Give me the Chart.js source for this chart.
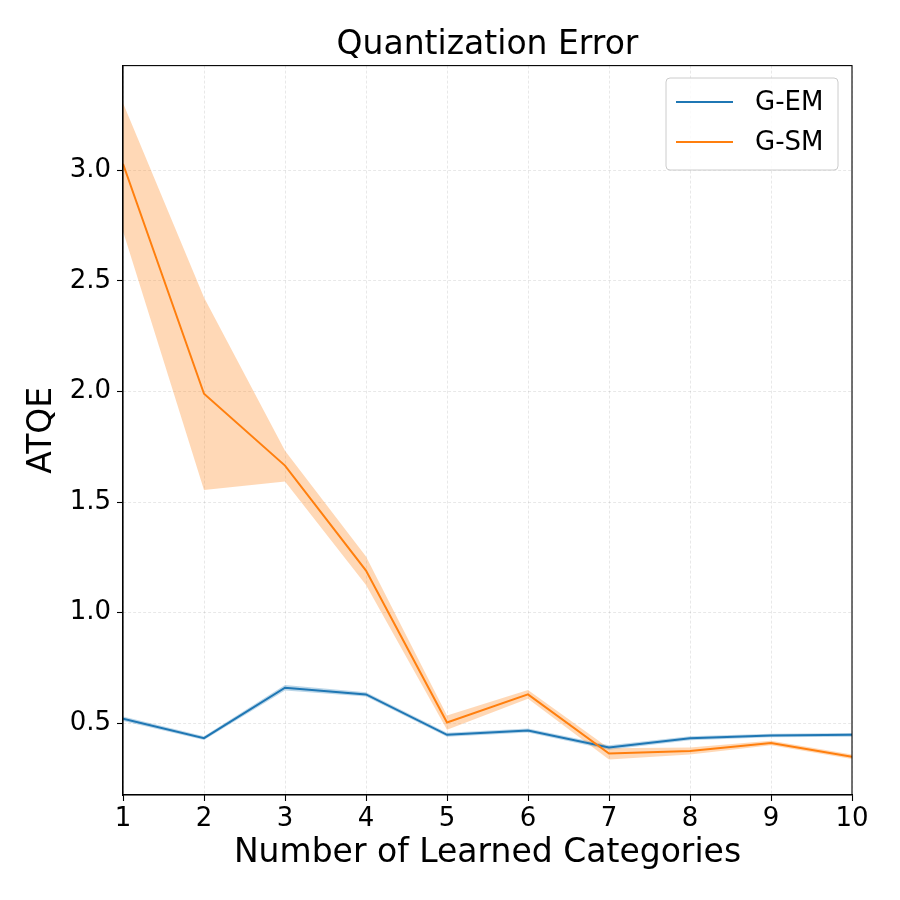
<!DOCTYPE html>
<html>
<head>
<meta charset="utf-8">
<script src="https://cdn.jsdelivr.net/npm/chart.js@4/dist/chart.umd.min.js"></script>
<style>
  html, body { margin: 0; padding: 0; background: #fff; }
  #wrap { width: 900px; height: 900px; }
</style>
</head>
<body>
<div id="wrap"><canvas id="c" width="900" height="900"></canvas></div>
<script>
const categories = [1, 2, 3, 4, 5, 6, 7, 8, 9, 10];
const yTickValues = [0.5, 1.0, 1.5, 2.0, 2.5, 3.0];
const xTickValues = [1, 2, 3, 4, 5, 6, 7, 8, 9, 10];

const gemMean  = [0.520, 0.432, 0.660, 0.630, 0.447, 0.467, 0.390, 0.432, 0.444, 0.447];
const gemLower = [0.510, 0.424, 0.648, 0.620, 0.438, 0.458, 0.380, 0.423, 0.436, 0.439];
const gemUpper = [0.530, 0.441, 0.672, 0.640, 0.456, 0.476, 0.400, 0.441, 0.452, 0.455];

const gsmMean  = [3.030, 1.990, 1.665, 1.190, 0.503, 0.630, 0.363, 0.374, 0.410, 0.348];
const gsmLower = [2.725, 1.555, 1.593, 1.125, 0.470, 0.610, 0.336, 0.358, 0.400, 0.338];
const gsmUpper = [3.305, 2.425, 1.732, 1.254, 0.535, 0.650, 0.386, 0.390, 0.420, 0.358];

const seriesNames = ['G-EM', 'G-SM'];
const blue = '#1f77b4', orange = '#ff7f0e';
const blueFill = 'rgba(31,119,180,0.3)', orangeFill = 'rgba(255,127,14,0.3)';

const pts = arr => categories.map((x, i) => ({x: x, y: arr[i]}));
const FONT = "'DejaVu Sans', sans-serif";

const frameAndLegend = {
  id: 'frameAndLegend',
  afterDraw(chart) {
    const ctx = chart.ctx, a = chart.chartArea;
    ctx.save();
    ctx.strokeStyle = '#000';
    ctx.lineWidth = 1.1;
    ctx.strokeRect(a.left, a.top, a.right - a.left, a.bottom - a.top);
    // legend
    const lx = 666, ly = 78, lw = 172, lh = 92, r = 4;
    ctx.beginPath();
    ctx.moveTo(lx + r, ly);
    ctx.arcTo(lx + lw, ly, lx + lw, ly + lh, r);
    ctx.arcTo(lx + lw, ly + lh, lx, ly + lh, r);
    ctx.arcTo(lx, ly + lh, lx, ly, r);
    ctx.arcTo(lx, ly, lx + lw, ly, r);
    ctx.closePath();
    ctx.fillStyle = 'rgba(255,255,255,0.8)';
    ctx.fill();
    ctx.strokeStyle = '#cccccc';
    ctx.lineWidth = 1;
    ctx.stroke();
    const colors = [blue, orange];
    const rows = [102, 142];
    ctx.font = '26px ' + FONT;
    ctx.textBaseline = 'middle';
    ctx.textAlign = 'left';
    for (let i = 0; i < 2; i++) {
      ctx.strokeStyle = colors[i];
      ctx.lineWidth = 2;
      ctx.beginPath();
      ctx.moveTo(676, rows[i]);
      ctx.lineTo(733, rows[i]);
      ctx.stroke();
      ctx.fillStyle = '#000';
      ctx.fillText(seriesNames[i], 755, rows[i] + 1);
    }
    ctx.restore();
  }
};

new Chart(document.getElementById('c'), {
  type: 'line',
  data: {
    datasets: [
      { label: 'G-SM', data: pts(gsmMean), borderColor: orange, borderWidth: 2, pointRadius: 0, fill: false, order: 0, tension: 0 },
      { label: 'G-SM lower', data: pts(gsmLower), borderWidth: 0, borderColor: 'rgba(0,0,0,0)', pointRadius: 0, fill: false, order: 10 },
      { label: 'G-SM upper', data: pts(gsmUpper), borderWidth: 0, borderColor: 'rgba(0,0,0,0)', backgroundColor: orangeFill, pointRadius: 0, fill: '-1', order: 11 },
      { label: 'G-EM', data: pts(gemMean), borderColor: blue, borderWidth: 2, pointRadius: 0, fill: false, order: 1, tension: 0 },
      { label: 'G-EM lower', data: pts(gemLower), borderWidth: 0, borderColor: 'rgba(0,0,0,0)', pointRadius: 0, fill: false, order: 12 },
      { label: 'G-EM upper', data: pts(gemUpper), borderWidth: 0, borderColor: 'rgba(0,0,0,0)', backgroundColor: blueFill, pointRadius: 0, fill: '-1', order: 13 }
    ]
  },
  options: {
    responsive: false,
    animation: false,
    devicePixelRatio: 1,
    layout: { padding: { left: 0, right: 48, top: 0, bottom: 0 } },
    plugins: {
      legend: { display: false },
      tooltip: { enabled: false },
      filler: { drawTime: 'beforeDatasetsDraw' },
      title: {
        display: true,
        text: 'Quantization Error',
        fullSize: false,
        color: '#000',
        font: { family: FONT, size: 33, weight: 'normal', lineHeight: 1.2 },
        padding: { top: 26, bottom: 0 }
      }
    },
    scales: {
      x: {
        type: 'linear',
        min: 1, max: 10,
        afterBuildTicks: s => { s.ticks = xTickValues.map(v => ({value: v})); },
        afterFit: s => { s.height = 105; },
        ticks: { color: '#000', font: { family: FONT, size: 26 }, padding: 3, maxRotation: 0,
                 callback: v => String(v) },
        grid: { color: 'rgba(0,0,0,0.09)', lineWidth: 1, drawTicks: true, tickLength: 6, tickColor: '#000', tickWidth: 1.1 },
        border: { display: true, color: '#000', width: 1.1, dash: [3, 2] },
        title: { display: true, text: 'Number of Learned Categories', color: '#000',
                 font: { family: FONT, size: 33 }, padding: { top: 0, bottom: 27 } }
      },
      y: {
        type: 'linear',
        min: 0.175, max: 3.474,
        afterBuildTicks: s => { s.ticks = yTickValues.map(v => ({value: v})); },
        afterFit: s => { s.width = 123; },
        ticks: { color: '#000', font: { family: FONT, size: 26 }, padding: 6,
                 callback: v => Number(v).toFixed(1) },
        grid: { color: 'rgba(0,0,0,0.09)', lineWidth: 1, drawTicks: true, tickLength: 6, tickColor: '#000', tickWidth: 1.1 },
        border: { display: true, color: '#000', width: 1.1, dash: [3, 2] },
        title: { display: true, text: 'ATQE', color: '#000',
                 font: { family: FONT, size: 33 }, padding: { top: 23, bottom: 0 } }
      }
    }
  },
  plugins: [frameAndLegend]
});
</script>
</body>
</html>
